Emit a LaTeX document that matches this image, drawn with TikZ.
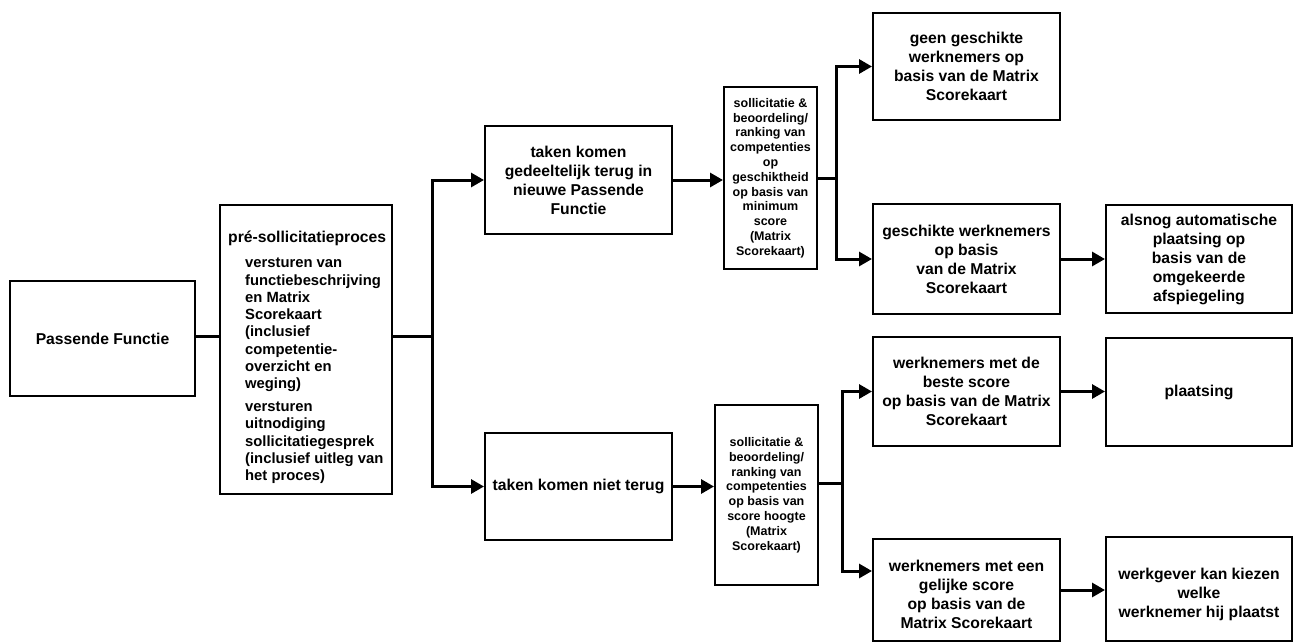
\documentclass[tikz,border=0pt]{standalone}
\usepackage{fontspec}
\setmainfont{Liberation Sans}
\usetikzlibrary{arrows.meta}
\begin{document}
\begin{tikzpicture}[x=1pt,y=-1pt,
  box/.style={draw, line width=2pt, inner sep=0pt, align=center,
    font=\bfseries\fontsize{15.7}{19}\selectfont},
  smallbox/.style={box, font=\bfseries\fontsize{12.5}{14.8}\selectfont},
  txt/.style={inner sep=0pt, align=center, font=\bfseries\fontsize{15.7}{19}\selectfont},
  conn/.style={line width=3pt},
  arr/.style={conn, -{Triangle[length=13pt,width=14pt]}}]
\useasboundingbox (0,0) rectangle (1303,643);

% boxes
\node[box, minimum width=185pt, minimum height=115pt] (A) at (102.5,338.5) {Passende Functie};
\node[box, minimum width=172pt, minimum height=289pt] (B) at (306,349.5) {};
\node[txt, anchor=west] (Bt) at (228,238) {pré-sollicitatieproces};
\node[txt, anchor=west, align=left, font=\bfseries\fontsize{14.8}{17.3}\selectfont] (Bi) at (245,371)
  {versturen van\\functiebeschrijving\\en Matrix\\Scorekaart\\(inclusief\\competentie-\\overzicht en\\weging)\\[5.5pt]
   versturen\\uitnodiging\\sollicitatiegesprek\\(inclusief uitleg van\\het proces)};

\node[box, minimum width=187pt, minimum height=108pt] (C) at (578.5,180) {taken komen\\gedeeltelijk terug in\\nieuwe Passende\\Functie};
\node[box, minimum width=187pt, minimum height=107pt] (D) at (578.5,486.5) {taken komen niet terug};

\node[smallbox, minimum width=93pt, minimum height=182pt] (E) at (770.5,178)
  {sollicitatie \&\\beoordeling/\\ranking van\\competenties\\op\\geschiktheid\\op basis van\\minimum\\score\\(Matrix\\Scorekaart)};
\node[smallbox, minimum width=103pt, minimum height=180pt] (I) at (766.5,495)
  {sollicitatie \&\\beoordeling/\\ranking van\\competenties\\op basis van\\score hoogte\\(Matrix\\Scorekaart)};

\node[box, minimum width=187pt, minimum height=107pt] (F) at (966.5,66.5) {geen geschikte\\werknemers op\\basis van de Matrix\\Scorekaart};
\node[box, minimum width=187pt, minimum height=110pt] (G) at (966.5,259) {geschikte werknemers\\op basis\\van de Matrix\\Scorekaart};
\node[box, minimum width=186pt, minimum height=108pt] (H) at (1199,259) {alsnog automatische\\plaatsing op\\basis van de\\omgekeerde\\afspiegeling};

\node[box, minimum width=187pt, minimum height=109pt] (J) at (966.5,391.5) {werknemers met de\\beste score\\op basis van de Matrix\\Scorekaart};
\node[box, minimum width=186pt, minimum height=108pt] (K) at (1199,392) {plaatsing};

\node[box, minimum width=187pt, minimum height=102pt] (L) at (966.5,590) {};
\node[txt] (Lt) at (966.5,594) {werknemers met een\\gelijke score\\op basis van de\\Matrix Scorekaart};
\node[box, minimum width=186pt, minimum height=104pt] (M) at (1199,589) {};
\node[txt] (Mt) at (1199,594) {werkgever kan kiezen\\welke\\werknemer hij plaatst};

% connectors
\coordinate (j1) at (432,336);
\draw[conn] (A.east |- j1) -- (B.west |- j1);
\draw[conn] (B.east |- j1) -- (j1);
\draw[arr] (j1) |- (C.west);
\draw[arr] (j1) |- (D.west);

\draw[arr] (C.east) -- (C.east -| E.west);
\coordinate (j2) at (836,178);
\draw[conn] (E.east |- j2) -- (j2);
\draw[arr] (j2) |- (F.west);
\draw[arr] (j2) |- (G.west);
\draw[arr] (G.east) -- (G.east -| H.west);

\draw[arr] (D.east) -- (D.east -| I.west);
\coordinate (j3) at (842,483);
\draw[conn] (I.east |- j3) -- (j3);
\draw[arr] (j3) |- (J.west);
\draw[arr] (j3) |- ([yshift=19pt]L.west);
\draw[arr] (J.east) -- (J.east -| K.west);
\draw[arr] (L.east) -- (L.east -| M.west);
\end{tikzpicture}
\end{document}
